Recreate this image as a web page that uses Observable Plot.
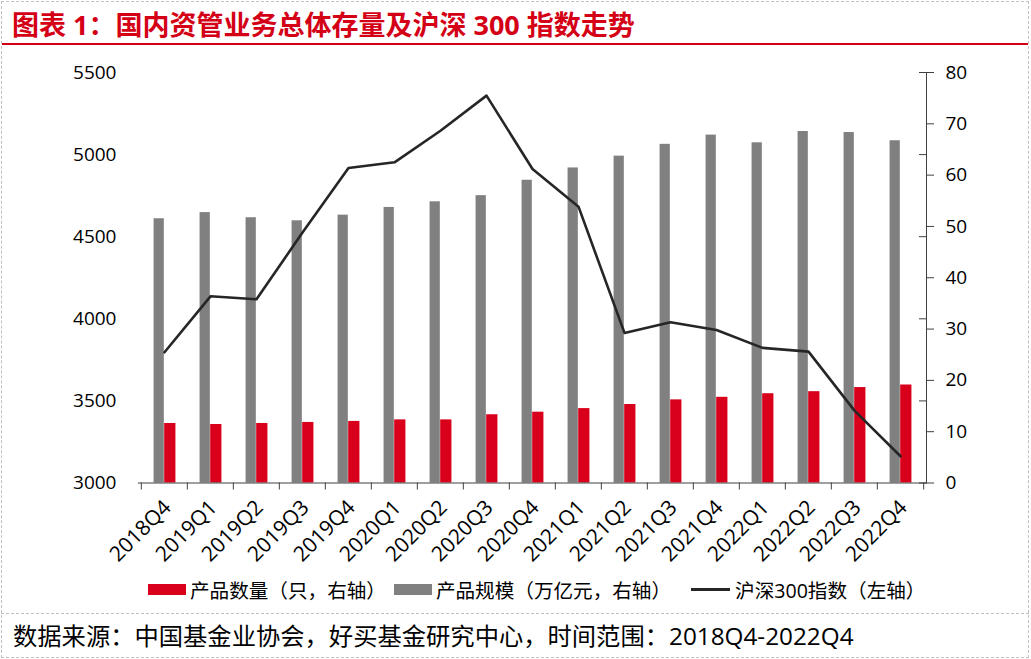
<!DOCTYPE html>
<html><head><meta charset="utf-8">
<script src="https://cdn.jsdelivr.net/npm/d3@7"></script>
<script src="https://cdn.jsdelivr.net/npm/@observablehq/plot@0.6"></script>
<style>
body{margin:0;background:#fff;font-family:"Open Sans","Noto Sans CJK SC",sans-serif;}
#wrap{position:relative;width:1031px;height:659px;overflow:hidden;background:#fff;}
.dash{position:absolute;border-color:#c0c0c0;border-style:dashed;border-width:0;}
#title{position:absolute;left:12px;top:7px;font-size:27px;font-weight:bold;color:#d40016;line-height:36px;white-space:nowrap;}
#redline{position:absolute;left:2px;right:3px;top:43px;height:2px;background:#d40016;}
#chart{position:absolute;left:0;top:50px;}
#legend{position:absolute;left:148px;top:576px;height:26px;display:flex;align-items:center;font-size:19.6px;color:#000;white-space:nowrap;}
#legend .sw{display:inline-block;width:38px;height:11px;margin-right:4px;}
#legend .ln{display:inline-block;width:39px;height:3px;margin-right:5px;background:#262626;}
#legend .item{display:flex;align-items:center;}
#footer{position:absolute;left:13px;top:619px;font-size:24.3px;line-height:34px;color:#000;white-space:nowrap;}
</style></head><body>
<div id="wrap">
  <div class="dash" style="left:1px;top:1px;bottom:1px;border-left-width:1px;"></div>
  <div class="dash" style="left:1028px;top:1px;bottom:1px;border-left-width:1px;"></div>
  <div class="dash" style="left:1px;right:2px;top:1px;border-top-width:1px;"></div>
  <div class="dash" style="left:1px;right:2px;top:613px;border-top-width:1px;"></div>
  <div class="dash" style="left:1px;right:2px;top:657px;border-top-width:1px;"></div>
  <div id="title">图表 1：国内资管业务总体存量及沪深 300 指数走势</div>
  <div id="redline"></div>
  <div id="chart"></div>
  <div id="legend">
    <div class="item"><span class="sw" style="background:#d9001b"></span><span>产品数量（只，右轴）</span></div>
    <div class="item" style="margin-left:8px"><span class="sw" style="background:#808080"></span><span>产品规模（万亿元，右轴）</span></div>
    <div class="item" style="margin-left:20px"><span class="ln"></span><span>沪深300指数（左轴）</span></div>
  </div>
  <div id="footer">数据来源：中国基金业协会，好买基金研究中心，时间范围：2018Q4-2022Q4</div>
</div>
<script>
const quarters = ["2018Q4","2019Q1","2019Q2","2019Q3","2019Q4","2020Q1","2020Q2","2020Q3","2020Q4","2021Q1","2021Q2","2021Q3","2021Q4","2022Q1","2022Q2","2022Q3","2022Q4"];
const productScale = [51.5,52.7,51.7,51.1,52.2,53.7,54.8,56.0,59.0,61.4,63.7,66.0,67.8,66.3,68.5,68.3,66.7];
const productCount = [11.6,11.4,11.6,11.8,12.0,12.3,12.3,13.3,13.8,14.5,15.3,16.2,16.7,17.4,17.8,18.6,19.1];
const csi300 = [3796,4137,4119,4525,4918,4953,5145,5359,4912,4683,3914,3979,3932,3823,3800,3441,3163];
const leftTicks = [3000,3500,4000,4500,5000,5500];
const rightTicks = [0,10,20,30,40,50,60,70,80];
const leftDomain = [3000,5500];
const rightDomain = [0,80];

const toRight = v => (v - leftDomain[0]) / (leftDomain[1] - leftDomain[0]) * (rightDomain[1] - rightDomain[0]) + rightDomain[0];
const rows = quarters.map((q,i)=>({q, scale: productScale[i], count: productCount[i], idx: csi300[i]}));

const W = 1031, H = 520, mL = 138, mR = 105, mT = 22, mB = 87.5;
const bw = (W - mL - mR) / quarters.length;
const grayW = 10.6, redW = 11.6;
const font = '"Open Sans","Noto Sans CJK SC",sans-serif';

const chart = Plot.plot({
  width: W, height: H, marginLeft: mL, marginRight: mR, marginTop: mT, marginBottom: mB,
  style: {fontFamily: font, fontSize: "19px", color: "#000", background: "transparent", overflow: "visible"},
  x: {type: "band", domain: quarters, padding: 0, axis: null},
  y: {domain: rightDomain, axis: null},
  marks: [
    Plot.barY(rows, {x: "q", y: "scale", fill: "#808080", insetLeft: bw/2 - grayW, insetRight: bw/2}),
    Plot.barY(rows, {x: "q", y: "count", fill: "#d9001b", insetLeft: bw/2, insetRight: bw/2 - redW}),
    Plot.line(rows, {x: "q", y: d => toRight(d.idx), stroke: "#262626", strokeWidth: 2.6}),
    Plot.frame({anchor: "bottom", stroke: "#404040"}),
    Plot.frame({anchor: "right", stroke: "#404040"}),
    Plot.axisY({anchor: "right", ticks: rightTicks, tickSize: 7, tickPadding: 12, tickFormat: d => String(d), label: null, fontSize: 19, stroke: "#404040"}),
    Plot.axisY({anchor: "left", ticks: leftTicks.map(toRight), tickSize: 7, tickFormat: () => "", label: null, dx: W - mL - mR, stroke: "#404040"}),
    Plot.axisY({anchor: "left", ticks: leftTicks.map(toRight), tickSize: 0, tickPadding: 22, tickFormat: (v, i) => String(leftTicks[i]), label: null, fontSize: 19}),
    Plot.axisX({ticks: quarters, tickSize: 7, tickFormat: () => "", label: null, dx: -bw/2, stroke: "#404040"}),
    Plot.axisX({ticks: [quarters[quarters.length-1]], tickSize: 7, tickFormat: () => "", label: null, dx: bw/2, stroke: "#404040"}),
    Plot.axisX({ticks: quarters, tickSize: 0, tickPadding: 21, tickRotate: -45, label: null, fontSize: 21, dx: 3})
  ]
});
document.getElementById("chart").appendChild(chart);
</script>
</body></html>
